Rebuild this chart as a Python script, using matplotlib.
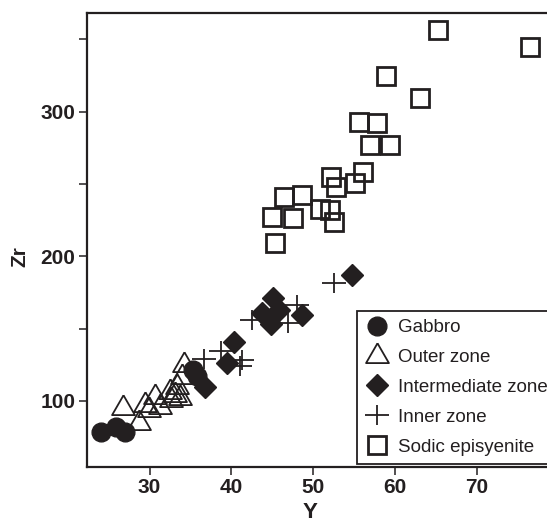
import numpy as np
import matplotlib
matplotlib.use("Agg")
import matplotlib.pyplot as plt
from matplotlib.path import Path

# Y (ppm) vs Zr (ppm) for each rock group
gabbro_y = [24.1, 25.9, 27.0, 35.3, 35.8]
gabbro_zr = [78.6, 82.0, 78.4, 121.5, 117.5]

outer_y = [26.8, 28.7, 29.4, 29.9, 30.7, 31.3, 32.6, 32.5, 33.1, 33.3, 33.7, 34.0, 34.2]
outer_zr = [95.0, 84.5, 97.3, 93.6, 103.0, 95.8, 100.7, 106.4, 104.1, 109.9, 101.9, 116.8, 124.9]

inter_y = [36.8, 39.5, 40.3, 43.8, 44.9, 45.1, 45.8, 48.7, 54.7]
inter_zr = [109.5, 126.3, 140.8, 160.5, 153.0, 171.3, 163.2, 159.2, 187.3]

inner_y = [36.6, 38.7, 41.0, 41.3, 42.5, 46.9, 48.0, 52.5]
inner_zr = [129.0, 134.5, 124.0, 128.0, 156.3, 154.0, 166.1, 181.3]

sodic_y = [45.4, 45.0, 47.6, 52.5, 46.5, 48.6, 50.8, 52.1, 52.8, 52.2, 55.1, 56.1,
           57.0, 59.4, 55.6, 57.8, 63.1, 58.9, 65.3, 76.5]
sodic_zr = [209.0, 227.5, 226.4, 224.0, 241.1, 242.5, 232.7, 232.2, 248.1, 255.0, 250.4, 258.5,
            276.9, 276.9, 293.1, 291.9, 309.2, 324.3, 356.6, 344.4]

labels = ["Gabbro", "Outer zone", "Intermediate zone", "Inner zone", "Sodic episyenite"]

ink = "#231f20"
plt.rcParams["font.family"] = ["Liberation Sans", "DejaVu Sans"]

# equilateral-ish triangle and a plus that is a little wider than tall
tri = [(0, 1.155), (-1, -0.577), (1, -0.577), (0, 1.155)]
plus = Path([(-1.2, 0), (1.2, 0), (0, -1), (0, 1)],
            [Path.MOVETO, Path.LINETO, Path.MOVETO, Path.LINETO])

fig = plt.figure(figsize=(5.47, 5.24), dpi=100)
ax = fig.add_axes([0.159, 0.1094, 0.862, 0.8653])

ax.plot(gabbro_y, gabbro_zr, ls="none", marker="o", ms=13.5, mfc=ink, mec=ink, label=labels[0])
ax.plot(outer_y, outer_zr, ls="none", marker=tri, ms=19, mfc="none", mec=ink, mew=1.3, label=labels[1])
ax.plot(inter_y, inter_zr, ls="none", marker="D", ms=11, mfc=ink, mec=ink, label=labels[2])
ax.plot(inner_y, inner_zr, ls="none", marker=plus, ms=17, mec=ink, mew=1.3, label=labels[3])
ax.plot(sodic_y, sodic_zr, ls="none", marker="s", ms=13, mfc="none", mec=ink, mew=2.0, label=labels[4])

ax.set_xlim(22.35, 80)
ax.set_ylim(54.6, 368)
ax.set_xticks([30, 40, 50, 60, 70])
ax.set_yticks([100, 200, 300])
ax.set_yticks([150, 250, 350], minor=True)
ax.tick_params(axis="both", which="both", direction="out", length=5.5, width=1.1,
               color=ink, labelsize=15, labelcolor=ink, top=False, right=False)
ax.tick_params(axis="x", pad=3)
ax.tick_params(axis="y", pad=3)
for lab in ax.get_xticklabels() + ax.get_yticklabels():
    lab.set_fontweight("bold")

for sp in ax.spines.values():
    sp.set_linewidth(1.6)
    sp.set_color(ink)

ax.set_xlabel("Y", fontsize=16, fontweight="bold", color=ink)
ax.set_ylabel("Zr", fontsize=15, fontweight="bold", color=ink)
ax.xaxis.set_label_coords(0.473, -0.079)
ax.yaxis.set_label_coords(-0.122, 0.4625)

leg = ax.legend(loc="upper left", bbox_to_anchor=(0.572, 0.344), fontsize=13.5,
                frameon=True, fancybox=False, framealpha=1, edgecolor=ink,
                borderpad=0.45, labelspacing=0.68, handlelength=1.3, handletextpad=0.45,
                borderaxespad=0)
leg.get_frame().set_linewidth(1.3)
for t in leg.get_texts():
    t.set_color(ink)

fig.savefig("out.png", dpi=100)
